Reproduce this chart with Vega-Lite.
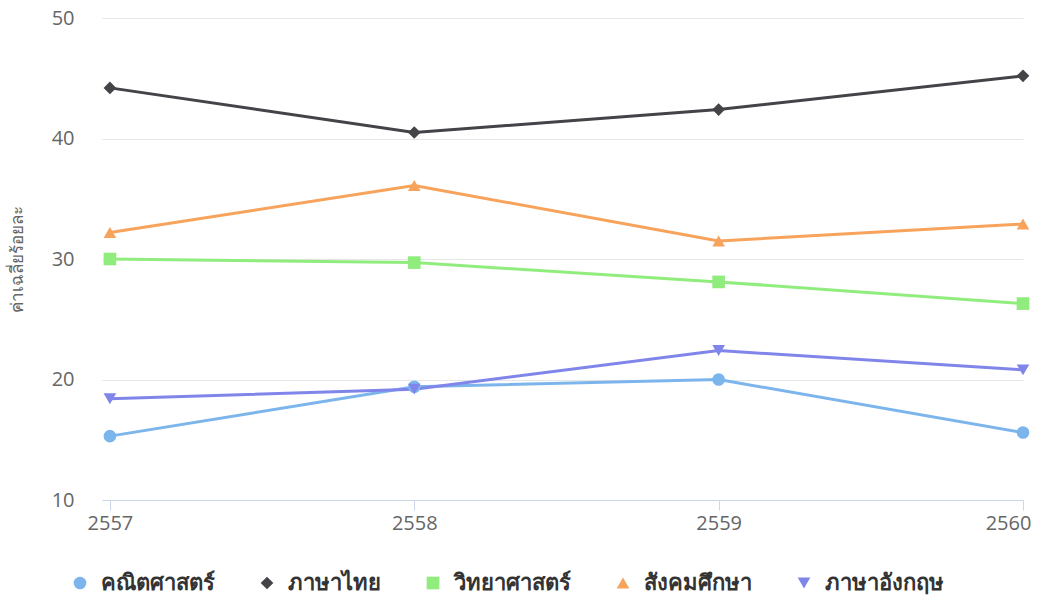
{
  "$schema": "https://vega.github.io/schema/vega-lite/v6.json",
  "width": 921,
  "height": 482,
  "autosize": "none",
  "padding": {"left": 102, "top": 18, "right": 15, "bottom": 101},
  "background": "white",
  "config": {
    "font": "Open Sans",
    "view": {"stroke": null}
  },
  "data": {
    "values": [
      {"year": 2557, "subject": "คณิตศาสตร์", "value": 15.3},
      {"year": 2558, "subject": "คณิตศาสตร์", "value": 19.4},
      {"year": 2559, "subject": "คณิตศาสตร์", "value": 20.0},
      {"year": 2560, "subject": "คณิตศาสตร์", "value": 15.6},
      {"year": 2557, "subject": "ภาษาไทย", "value": 44.2},
      {"year": 2558, "subject": "ภาษาไทย", "value": 40.5},
      {"year": 2559, "subject": "ภาษาไทย", "value": 42.4},
      {"year": 2560, "subject": "ภาษาไทย", "value": 45.2},
      {"year": 2557, "subject": "วิทยาศาสตร์", "value": 30.0},
      {"year": 2558, "subject": "วิทยาศาสตร์", "value": 29.7},
      {"year": 2559, "subject": "วิทยาศาสตร์", "value": 28.1},
      {"year": 2560, "subject": "วิทยาศาสตร์", "value": 26.3},
      {"year": 2557, "subject": "สังคมศึกษา", "value": 32.2},
      {"year": 2558, "subject": "สังคมศึกษา", "value": 36.1},
      {"year": 2559, "subject": "สังคมศึกษา", "value": 31.5},
      {"year": 2560, "subject": "สังคมศึกษา", "value": 32.9},
      {"year": 2557, "subject": "ภาษาอังกฤษ", "value": 18.4},
      {"year": 2558, "subject": "ภาษาอังกฤษ", "value": 19.2},
      {"year": 2559, "subject": "ภาษาอังกฤษ", "value": 22.4},
      {"year": 2560, "subject": "ภาษาอังกฤษ", "value": 20.8}
    ]
  },
  "encoding": {
    "x": {
      "field": "year",
      "type": "quantitative",
      "scale": {"domain": [2556.974, 2560], "nice": false, "zero": false},
      "axis": {
        "title": null,
        "values": [2557, 2558, 2559, 2560],
        "format": "d",
        "grid": false,
        "domainColor": "#ccd6eb",
        "tickColor": "#ccd6eb",
        "tickSize": 10,
        "labelFontSize": 20,
        "labelColor": "#666666",
        "labelPadding": 3,
        "labelFlush": false,
        "labelOffset": {"expr": "datum.value == 2560 ? -15 : 0"}
      }
    },
    "y": {
      "field": "value",
      "type": "quantitative",
      "scale": {"domain": [10, 50], "nice": false, "zero": false},
      "axis": {
        "title": "ค่าเฉลี่ยร้อยละ",
        "titleFontSize": 17,
        "titleFontWeight": "normal",
        "titleColor": "#666666",
        "titlePadding": 25,
        "values": [10, 20, 30, 40, 50],
        "domain": false,
        "ticks": false,
        "grid": true,
        "gridColor": "#e6e6e6",
        "labelFontSize": 20,
        "labelColor": "#666666",
        "labelPadding": 28
      }
    },
    "color": {
      "field": "subject",
      "type": "nominal",
      "scale": {
        "domain": ["คณิตศาสตร์", "ภาษาไทย", "วิทยาศาสตร์", "สังคมศึกษา", "ภาษาอังกฤษ"],
        "range": ["#7cb5ec", "#434348", "#90ed7d", "#f7a35c", "#8085e9"]
      },
      "legend": {
        "title": null,
        "orient": "none",
        "legendX": -33,
        "legendY": 554,
        "direction": "horizontal",
        "labelFontSize": 22,
        "labelFontWeight": "bold",
        "labelColor": "#333333",
        "symbolSize": 160,
        "symbolStrokeWidth": 0,
        "columnPadding": 41,
        "labelOffset": 10
      }
    }
  },
  "layer": [
    {
      "mark": {"type": "line", "strokeWidth": 3}
    },
    {
      "mark": {"type": "point", "filled": true, "opacity": 1, "size": 160},
      "encoding": {
        "shape": {
          "field": "subject",
          "type": "nominal",
          "scale": {
            "domain": ["คณิตศาสตร์", "ภาษาไทย", "วิทยาศาสตร์", "สังคมศึกษา", "ภาษาอังกฤษ"],
            "range": ["circle", "diamond", "square", "triangle-up", "triangle-down"]
          },
          "legend": {
            "title": null,
            "orient": "none",
            "legendX": -33,
            "legendY": 554,
            "direction": "horizontal",
            "labelFontSize": 22,
            "labelFontWeight": "bold",
            "labelColor": "#333333",
            "symbolSize": 160,
            "columnPadding": 41,
            "labelOffset": 10
          }
        }
      }
    }
  ]
}
